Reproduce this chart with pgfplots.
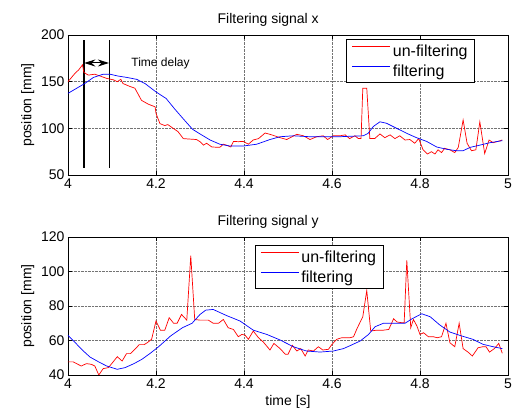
\documentclass[border=0pt]{standalone}
\usepackage{pgfplots}
\pgfplotsset{compat=1.18}
\usepackage{fontspec}
\setmainfont{Liberation Sans}
\usetikzlibrary{arrows.meta}

\pgfplotsset{
  matlab/.style={
    scale only axis,
    width=440pt,
    xmin=4, xmax=5,
    xtick={4,4.2,4.4,4.6,4.8,5},
    xticklabels={4,4.2,4.4,4.6,4.8,5},
    grid=major,
    grid style={densely dotted, black!55},
    tick align=inside,
    major tick length=4pt,
    tick style={black, line width=0.6pt},
    axis line style={line width=0.8pt},
    tick label style={font=\fontsize{14}{16}\selectfont},
    /pgf/number format/assume math mode=true,
    label style={font=\fontsize{14}{16}\selectfont},
    title style={font=\fontsize{14}{16}\selectfont, at={(0.455,1)}, anchor=south, yshift=-1pt},
    legend style={font=\fontsize{16}{18}\selectfont, draw=black, line width=0.8pt, fill=white,
      inner xsep=5pt, inner ysep=3pt, row sep=3pt},
    legend cell align=left,
    legend image code/.code={\draw[##1, line width=1pt] (0pt,4.5pt) -- (38pt,4.5pt);},
  },
}

\begin{document}
\begin{tikzpicture}
\useasboundingbox (-68pt,-239pt) rectangle (447pt,175pt);

\begin{axis}[matlab,
    at={(0pt,0pt)}, anchor=south west,
    height=140pt,
    ymin=50, ymax=200,
    ytick={50,100,150,200},
    title={Filtering signal x},
    ylabel={position [mm]},
    legend style={at={(0.925,0.971)}, anchor=north east},
]
% time delay markers
\addplot[black, line width=1.6pt, forget plot] coordinates {(4.036,58)(4.036,195)};
\addplot[black, line width=1.6pt, forget plot] coordinates {(4.094,58)(4.094,195)};
\draw[{Stealth[length=11pt,width=7pt]}-{Stealth[length=11pt,width=7pt]}, line width=1pt]
  (axis cs:4.037,170) -- (axis cs:4.093,170);
\node[anchor=west, font=\fontsize{12}{14}\selectfont] at (axis cs:4.136,170) {Time delay};

\addplot[red, line width=0.7pt] coordinates {
(4.000,150)(4.016,159)(4.024,162.5)(4.033,168)(4.036,160)(4.046,157)(4.061,158)(4.073,156)(4.088,153.5)(4.103,152)(4.112,150)(4.120,152.5)(4.125,148)(4.140,145)(4.152,143)(4.167,130)(4.182,126)(4.198,123)(4.200,116)(4.209,105)(4.220,103)(4.227,104)(4.239,100)(4.250,96.5)(4.262,89)(4.273,88.6)(4.292,88)(4.300,85.7)(4.308,82)(4.315,84)(4.327,80)(4.345,79.6)(4.353,83)(4.360,82)(4.370,80)(4.376,86)(4.387,85.7)(4.398,86)(4.410,83)(4.421,87.5)(4.433,89)(4.448,95)(4.463,93)(4.482,90)(4.497,88)(4.520,93.6)(4.535,92)(4.550,88)(4.565,91)(4.580,92)(4.590,88)(4.603,92)(4.618,92)(4.630,93)(4.640,89)(4.652,92)(4.660,89)(4.666,89)(4.670,143)(4.679,143)(4.686,89)(4.697,89)(4.709,94)(4.720,90)(4.732,93)(4.743,89)(4.754,92)(4.766,87.5)(4.777,88)(4.788,84)(4.797,89)(4.807,77)(4.817,72.5)(4.826,75)(4.834,72.5)(4.841,77)(4.849,74)(4.856,78.6)(4.868,77)(4.879,74)(4.887,79.6)(4.898,109)(4.907,84)(4.917,76)(4.927,77)(4.936,107)(4.947,73)(4.957,87.5)(4.966,84.6)(4.977,86)(4.987,87.5)
};
\addlegendentry{un-filtering}
\addplot[blue, line width=0.7pt] coordinates {
(4.000,137.5)(4.020,143)(4.038,148)(4.058,154.6)(4.080,158)(4.095,158)(4.114,156)(4.133,154.6)(4.156,152.5)(4.175,148)(4.200,139)(4.223,132)(4.242,121)(4.261,110.7)(4.283,99)(4.300,94)(4.323,87.5)(4.345,83)(4.368,81)(4.398,81)(4.429,83)(4.459,88)(4.482,91)(4.512,92)(4.550,91)(4.588,91)(4.618,91)(4.641,91.5)(4.671,92)(4.682,94.6)(4.694,102)(4.709,107)(4.724,105.4)(4.747,100)(4.770,94.6)(4.792,90)(4.815,86)(4.838,80)(4.861,77.5)(4.883,76)(4.898,76)(4.914,79.6)(4.936,82)(4.959,84.6)(4.987,86.8)
};
\addlegendentry{filtering}
\end{axis}

\begin{axis}[matlab,
    at={(0pt,-200pt)}, anchor=south west,
    height=138pt,
    ymin=40, ymax=120,
    ytick={40,60,80,100,120},
    title={Filtering signal y},
    xlabel={time [s]},
    ylabel={position [mm]},
    legend style={at={(0.425,0.942)}, anchor=north west},
]
\addplot[red, line width=0.7pt] coordinates {
(4.000,47.6)(4.012,47.6)(4.030,45.2)(4.042,46.6)(4.053,46.2)(4.061,45.2)(4.070,40)(4.080,43.7)(4.092,44.3)(4.100,46.8)(4.112,50.6)(4.123,48.1)(4.133,52.4)(4.142,52.4)(4.152,54.9)(4.162,57.6)(4.173,57.6)(4.180,58.7)(4.190,60.7)(4.200,71.3)(4.210,66)(4.220,66)(4.230,73.2)(4.240,70)(4.248,70)(4.258,75.1)(4.270,71.8)(4.279,109.2)(4.288,72.2)(4.300,71.8)(4.319,71.8)(4.330,70)(4.342,70)(4.353,72.2)(4.364,67.4)(4.376,66.4)(4.387,62.2)(4.395,63.5)(4.402,63.2)(4.410,60.7)(4.421,65.5)(4.433,61.6)(4.444,59.1)(4.459,54.5)(4.468,58.3)(4.482,55.3)(4.494,52)(4.500,52)(4.510,57.2)(4.520,53.9)(4.529,55.3)(4.539,51)(4.546,54.5)(4.558,53.9)(4.569,56.4)(4.579,54.5)(4.592,54.9)(4.600,57.8)(4.611,60.7)(4.622,61.6)(4.641,61.6)(4.649,62.2)(4.656,66.4)(4.664,70.7)(4.670,73.8)(4.679,89)(4.688,65.5)(4.702,66)(4.717,66)(4.729,66.4)(4.740,72.6)(4.748,70.7)(4.759,70.3)(4.764,70.3)(4.770,106.5)(4.779,67.4)(4.785,72.2)(4.793,68.4)(4.800,63.5)(4.808,64.5)(4.819,62.2)(4.830,62.2)(4.839,61.6)(4.849,62.2)(4.859,70)(4.868,58.7)(4.879,56.4)(4.889,70)(4.898,55.3)(4.909,53.3)(4.919,51)(4.932,55.8)(4.943,56.4)(4.950,56.4)(4.958,53.3)(4.969,55.3)(4.979,58.3)(4.987,52.6)
};
\addlegendentry{un-filtering}
\addplot[blue, line width=0.7pt] coordinates {
(4.000,63)(4.020,57.8)(4.035,53.9)(4.050,50.4)(4.069,47.7)(4.088,45.2)(4.112,43.3)(4.130,44.3)(4.150,46.6)(4.168,49.1)(4.187,52.6)(4.206,56.4)(4.233,62.6)(4.260,67.4)(4.282,70)(4.300,75.1)(4.313,77.6)(4.330,78)(4.360,74.5)(4.391,71.3)(4.421,66)(4.452,63.5)(4.482,60.3)(4.512,56.4)(4.542,53.9)(4.573,53.3)(4.603,53.9)(4.626,55.3)(4.641,57)(4.664,59.7)(4.683,63.5)(4.698,68)(4.717,70)(4.740,70)(4.766,70)(4.782,72.6)(4.804,75.5)(4.823,73.8)(4.845,69)(4.868,64.9)(4.890,63)(4.920,60.7)(4.943,57.8)(4.966,56.4)(4.987,55.3)
};
\addlegendentry{filtering}
\end{axis}
\end{tikzpicture}
\end{document}
